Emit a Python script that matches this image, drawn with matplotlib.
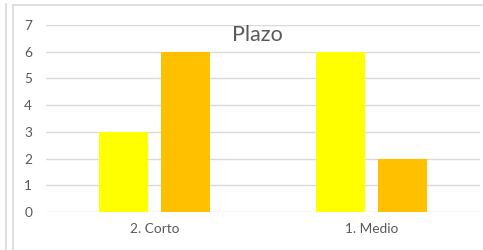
import matplotlib.pyplot as plt
import numpy as np
from matplotlib.lines import Line2D

# Datos
categorias = ["2. Corto", "1. Medio"]
serie_a = [3, 6]
serie_b = [6, 2]
titulo = "Plazo"

plt.rcParams['font.family'] = ['Lato', 'DejaVu Sans']

fig = plt.figure(figsize=(4.83, 2.5), dpi=100)
ax = fig.add_axes([46 / 483, 38 / 250, 434 / 483, 187 / 250])

x = np.arange(len(categorias))
w = 49 / 217
gap = 13 / 217
ax.bar(x - (w + gap) / 2, serie_a, width=w, color="#FFFF00", zorder=3)
ax.bar(x + (w + gap) / 2, serie_b, width=w, color="#FFC000", zorder=3)

ax.set_xlim(-0.5, 1.5)
ax.set_ylim(0, 7)
ax.set_yticks(range(8))
ax.set_xticks(x)
ax.set_xticklabels(categorias)
ax.yaxis.grid(True, color="#D9D9D9", linewidth=1, zorder=0)
ax.tick_params(length=0, labelsize=9.8, labelcolor="#595959")
ax.tick_params(axis="x", pad=8)
ax.tick_params(axis="y", pad=10)
for s in ax.spines.values():
    s.set_visible(False)

fig.text(257 / 483, 1 - 35 / 250, titulo, fontsize=15.5, color="#595959",
         ha="center", va="center")

# marcos del gráfico
fig.add_artist(Line2D([5.5 / 483, 5.5 / 483], [0, 246 / 250], color="#D9D9D9", lw=1.2))
fig.add_artist(Line2D([12.5 / 483, 12.5 / 483], [0, 245 / 250], color="#D9D9D9", lw=1.2))
fig.add_artist(Line2D([12.5 / 483, 1], [245 / 250, 245 / 250], color="#D9D9D9", lw=1.2))

fig.savefig("out.png", dpi=100)
